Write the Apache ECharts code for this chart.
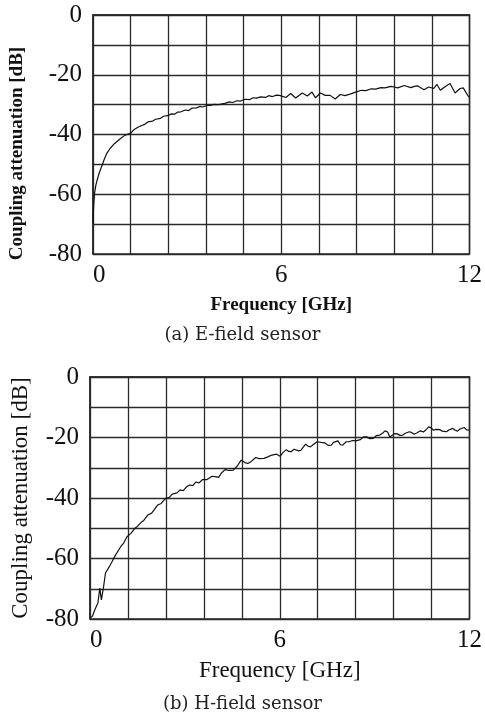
<!DOCTYPE html>
<html>
<head>
<meta charset="utf-8">
<script src="https://cdn.jsdelivr.net/npm/echarts@6/dist/echarts.min.js"></script>
<style>
  html, body { margin: 0; padding: 0; background: #fff; }
  #main { width: 485px; height: 714px; }
</style>
</head>
<body>
<div id="main"></div>
<script>
// (a) E-field sensor: frequency [GHz] and coupling attenuation [dB]
const freqE = [0, 0.02, 0.05, 0.09, 0.13, 0.2, 0.29, 0.36, 0.44, 0.55, 0.69, 0.85, 1.02, 1.2, 1.3, 1.43,
  1.55, 1.65, 1.75, 1.9, 2.0, 2.15, 2.25, 2.38, 2.5, 2.6, 2.7, 2.8, 2.95, 3.05, 3.15, 3.3, 3.4, 3.5,
  3.63, 3.75, 3.85, 4.0, 4.05, 4.2, 4.35, 4.45, 4.58, 4.7, 4.85, 5.0, 5.1, 5.2, 5.35, 5.5, 5.6, 5.72,
  5.85, 5.94, 6.15, 6.3, 6.46, 6.67, 6.83, 6.98, 7.09, 7.25, 7.4, 7.56, 7.72, 7.88, 8.03, 8.19, 8.37,
  8.56, 8.7, 8.87, 9.0, 9.18, 9.3, 9.5, 9.6, 9.71, 9.92, 10.13, 10.25, 10.34, 10.55, 10.7, 10.86,
  10.96, 11.07, 11.23, 11.38, 11.54, 11.7, 11.8, 11.96, 12.0];
const attE = [-70, -64, -59.6, -57, -55.3, -52.8, -50.3, -48.3, -46.3, -44.6, -43, -41.6, -40.2, -39.6, -38.4, -37.6,
  -37.0, -36.6, -35.8, -35.5, -34.9, -34.6, -33.9, -33.7, -33.1, -33.2, -32.5, -32.4, -31.8, -32.0, -31.2, -31.1, -30.6, -30.8,
  -30.3, -30.3, -29.9, -30.0, -29.6, -29.6, -29.1, -29.3, -28.7, -28.8, -28.2, -28.3, -27.7, -27.8, -27.4, -27.6, -27.0, -27.3,
  -26.8, -26.9, -27.6, -26.3, -27.8, -26.1, -27.1, -25.8, -27.7, -26.1, -26.9, -26.9, -28.1, -26.6, -27.0, -26.5, -25.8,
  -25.2, -25.3, -24.7, -24.8, -24.3, -24.4, -23.9, -24.1, -24.4, -23.6, -24.3, -23.9, -23.7, -25.0, -24.1, -24.6,
  -23.2, -25.2, -23.9, -22.9, -26.1, -24.6, -24.4, -27.2, -27.4];

// (b) H-field sensor
const freqH = [0, 0.02, 0.08, 0.15, 0.25, 0.31, 0.36, 0.43, 0.49, 0.61, 0.7, 0.81, 0.97, 1.07, 1.17, 1.3,
  1.43, 1.5, 1.63, 1.7, 1.83, 1.95, 2.05, 2.14, 2.25, 2.39, 2.5, 2.6, 2.75, 2.85, 2.95, 3.05, 3.15,
  3.25, 3.35, 3.45, 3.56, 3.7, 3.86, 4.0, 4.07, 4.15, 4.27, 4.4, 4.53, 4.65, 4.78, 4.9, 4.99, 5.1,
  5.24, 5.35, 5.5, 5.62, 5.75, 5.8, 5.9, 6.01, 6.1, 6.21, 6.28, 6.36, 6.45, 6.51, 6.6, 6.67, 6.82,
  6.9, 6.97, 7.05, 7.18, 7.3, 7.43, 7.53, 7.63, 7.7, 7.84, 7.92, 7.99, 8.1, 8.19, 8.3, 8.4, 8.55,
  8.65, 8.75, 8.85, 8.96, 9.05, 9.16, 9.25, 9.33, 9.41, 9.48, 9.57, 9.64, 9.72, 9.8, 9.89, 9.97,
  10.1, 10.18, 10.25, 10.33, 10.45, 10.54, 10.62, 10.71, 10.79, 10.86, 10.94, 11.06, 11.14, 11.27,
  11.35, 11.47, 11.55, 11.62, 11.7, 11.83, 11.91, 12.0];
const attH = [-79.7, -80, -79, -77, -74.7, -69.8, -73.7, -69.3, -64.8, -62.7, -61, -58.8, -56.1, -54.8, -52.8, -51.6,
  -49.9, -49.4, -47.9, -47.4, -45.6, -45.0, -43.6, -42.3, -41.8, -40.1, -39.9, -38.7, -38.3, -37.3, -37.6, -36.3, -35.7,
  -35.9, -34.7, -35.0, -33.9, -33.9, -32.8, -33.0, -33.2, -31.8, -30.6, -30.9, -30.8, -29.5, -27.5, -28.3, -28.6, -27.9,
  -26.6, -27.0, -26.9, -26.4, -25.8, -25.2, -25.5, -26.2, -25.0, -24.0, -24.6, -24.7, -23.9, -23.9, -24.4, -24.2, -22.2,
  -22.9, -23.1, -22.4, -21.4, -21.6, -21.8, -22.6, -22.5, -21.6, -21.1, -22.4, -22.5, -21.4, -21.4, -21.0, -21.1, -20.7,
  -19.8, -19.8, -20.4, -20.3, -19.4, -19.2, -18.6, -17.8, -18.2, -19.8, -19.2, -18.7, -18.8, -19.3, -19.2, -18.6,
  -18.1, -18.4, -18.9, -18.5, -17.8, -18.2, -17.5, -16.5, -16.8, -17.6, -17.3, -17.4, -17.9, -18.1,
  -17.5, -17.0, -17.6, -17.9, -17.2, -16.7, -17.5, -17.6];

const xTickLabels = ['0', '6', '12'];
const yTickLabels = ['0', '-20', '-40', '-60', '-80'];

function zip(xs, ys) {
    return xs.map((x, i) => [x, ys[i]]);
}

const chart = echarts.init(document.getElementById('main'));

const serif = "'Liberation Serif', 'Times New Roman', serif";
const gridColor = '#2a2a2a';

function xAxisFor(gridIndex, nameStyle, nameGap) {
    return {
        type: 'value',
        gridIndex: gridIndex,
        min: 0,
        max: 12,
        interval: 1.2,
        name: 'Frequency [GHz]',
        nameLocation: 'middle',
        nameGap: nameGap,
        nameTextStyle: nameStyle,
        axisLine: { show: true, lineStyle: { color: gridColor, width: 1.5 } },
        axisTick: { show: false },
        splitLine: { show: true, lineStyle: { color: gridColor, width: 1.3 } },
        axisLabel: {
            margin: 9,
            fontFamily: serif,
            fontSize: 25,
            color: '#111',
            alignMinLabel: 'left',
            formatter: function (v) {
                const r = String(Math.round(v * 100) / 100);
                return xTickLabels.indexOf(r) >= 0 ? r : '';
            }
        }
    };
}

function yAxisFor(gridIndex, nameStyle, nameGap) {
    return {
        type: 'value',
        gridIndex: gridIndex,
        min: -80,
        max: 0,
        interval: 10,
        name: 'Coupling attenuation [dB]',
        nameLocation: 'middle',
        nameGap: nameGap,
        nameTextStyle: nameStyle,
        axisLine: { show: true, lineStyle: { color: gridColor, width: 1.5 } },
        axisTick: { show: false },
        splitLine: { show: true, lineStyle: { color: gridColor, width: 1.3 } },
        axisLabel: {
            margin: 11,
            fontFamily: serif,
            fontSize: 25,
            color: '#111',
            formatter: function (v) {
                const s = String(Math.round(v));
                return yTickLabels.indexOf(s) >= 0 ? s : '';
            }
        }
    };
}

const nameAx = { fontFamily: serif, fontSize: 19, fontWeight: 'bold', color: '#111' };
const nameAy = { fontFamily: serif, fontSize: 19, fontWeight: 'bold', color: '#111', padding: [0, 38, 0, 0] };
const nameB = { fontFamily: serif, fontSize: 23, color: '#111' };

const option = {
    backgroundColor: '#fff',
    animation: false,
    textStyle: { fontFamily: serif },
    title: [
        {
            text: '(a) E-field sensor',
            left: 'center',
            top: 321,
            textStyle: { fontFamily: 'DejaVu Serif', fontSize: 18, fontWeight: 'normal', color: '#222' }
        },
        {
            text: '(b) H-field sensor',
            left: 'center',
            top: 690,
            textStyle: { fontFamily: 'DejaVu Serif', fontSize: 18, fontWeight: 'normal', color: '#222' }
        }
    ],
    grid: [
        { left: 91, top: 15, width: 382, height: 239, show: true, borderColor: gridColor, borderWidth: 1.5 },
        { left: 90, top: 377, width: 393, height: 242, show: true, borderColor: gridColor, borderWidth: 1.5 }
    ],
    xAxis: [xAxisFor(0, nameAx, 42), xAxisFor(1, nameB, 40)],
    yAxis: [yAxisFor(0, nameAy, 66), yAxisFor(1, nameB, 58)],
    series: [
        {
            name: 'E-field',
            type: 'line',
            xAxisIndex: 0,
            yAxisIndex: 0,
            data: zip(freqE, attE),
            showSymbol: false,
            lineStyle: { color: '#111', width: 1.2 }
        },
        {
            name: 'H-field',
            type: 'line',
            xAxisIndex: 1,
            yAxisIndex: 1,
            data: zip(freqH, attH),
            showSymbol: false,
            lineStyle: { color: '#111', width: 1.2 }
        }
    ]
};

chart.setOption(option);
</script>
</body>
</html>
